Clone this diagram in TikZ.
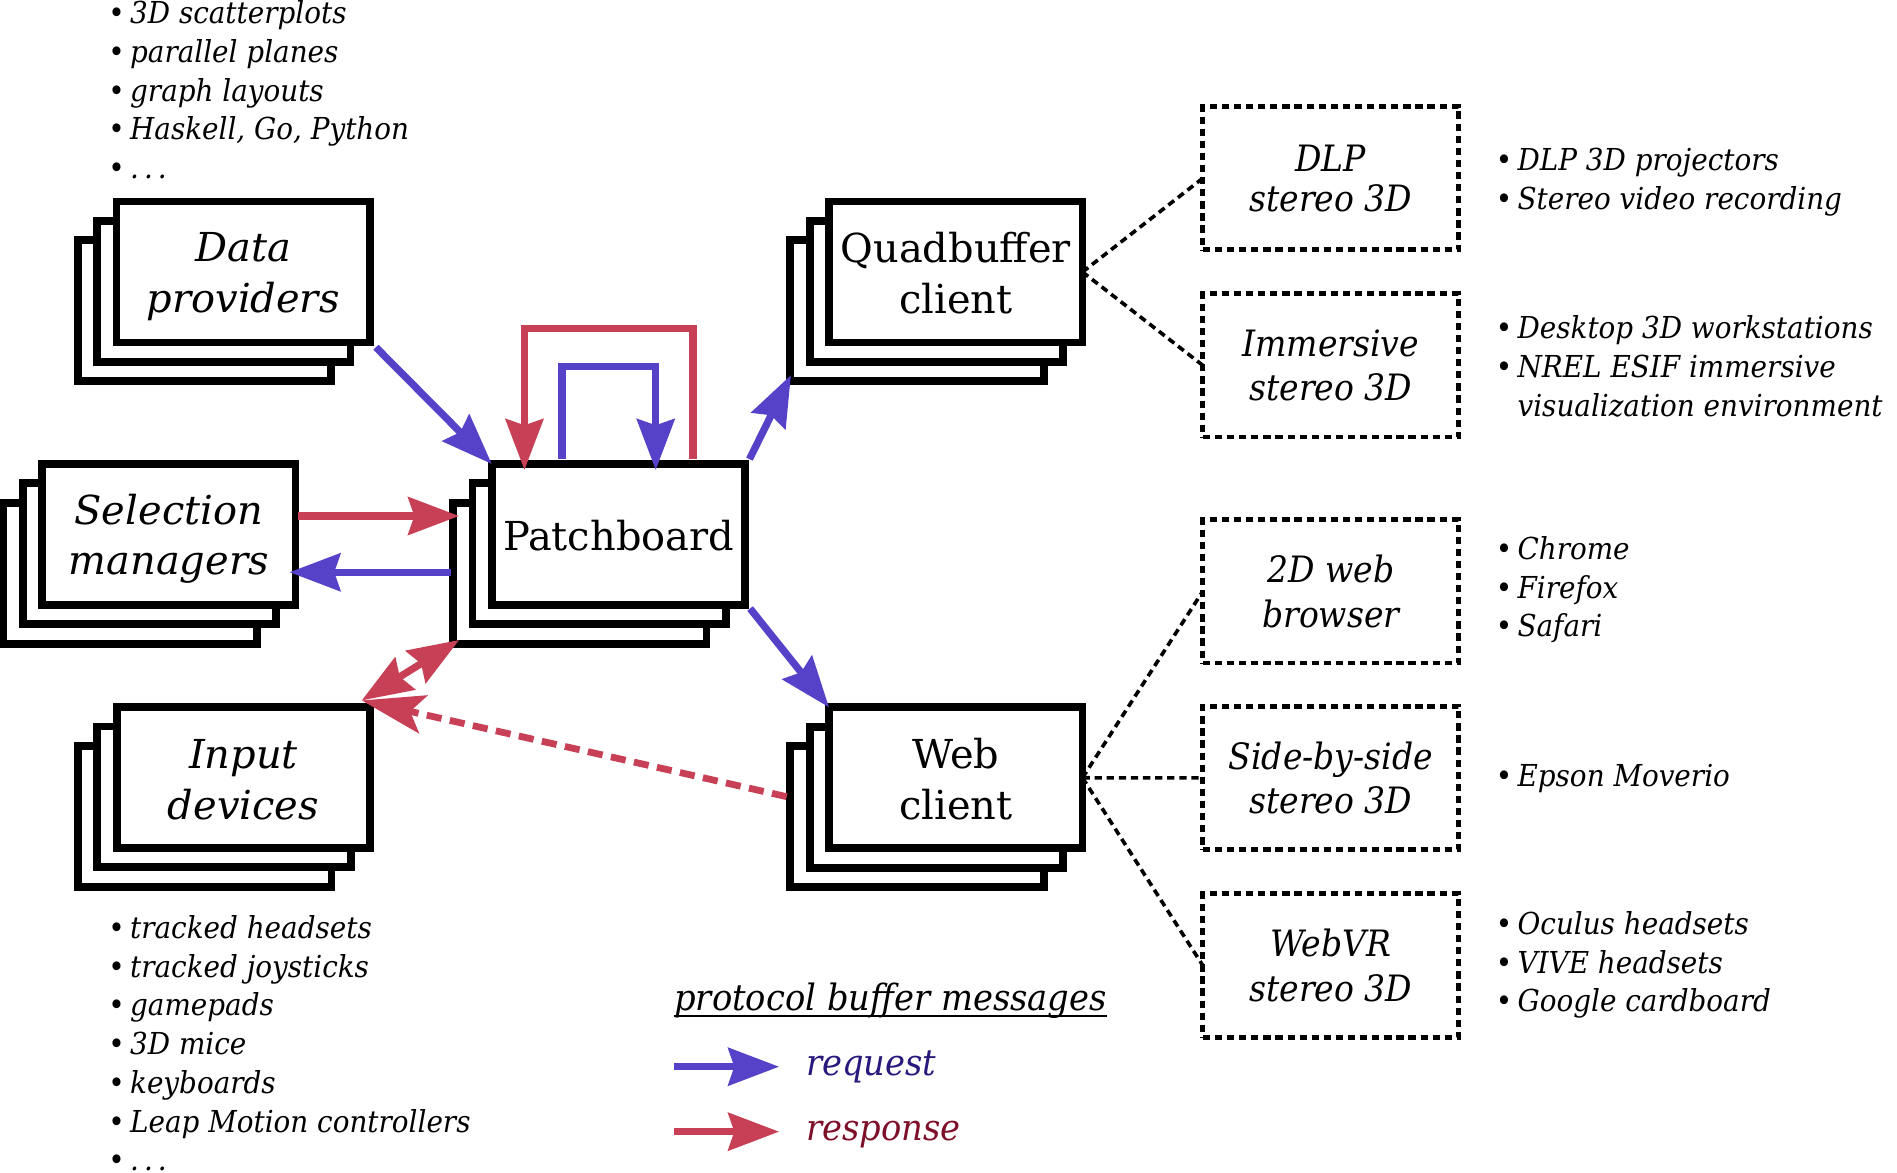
\documentclass[tikz,border=0pt]{standalone}
\usepackage{fontspec}
\setmainfont{DejaVu Serif}
\newfontfamily\listfont{DejaVu Serif}[FakeStretch=0.92]
\newfontfamily\scrfont{DejaVu Serif}[FakeStretch=0.91]
\newfontfamily\legfont{DejaVu Serif}[FakeStretch=0.93]
\usetikzlibrary{arrows.meta,calc}
\definecolor{reqblue}{RGB}{86,66,200}
\definecolor{resred}{RGB}{200,64,85}
\definecolor{reqtext}{RGB}{40,25,125}
\definecolor{restext}{RGB}{125,15,40}
\newcommand\bul{\makebox[9pt][l]{•}}
\begin{document}
\begin{tikzpicture}[x=0.5pt,y=-0.5pt,
  card/.style={draw=black, fill=white, line width=3.25pt, minimum width=104.75pt,
    minimum height=58.25pt, inner sep=0pt, outer sep=0pt},
  cardtext/.style={inner sep=0pt, align=center, font=\fontsize{16.5}{21}\selectfont},
  screen/.style={draw=black, line width=2pt, dash pattern=on 3pt off 2pt,
    minimum width=105.8pt, minimum height=59.25pt, inner sep=0pt, outer sep=0pt,
    align=center, font=\fontsize{15}{18.5}\selectfont\scrfont\itshape},
  conn/.style={draw=black, line width=1.5pt, dash pattern=on 3pt off 2pt},
  tipA/.tip={Stealth[length=21pt,width=15.5pt,inset=2.5pt]},
  req/.style={draw=reqblue, line width=3pt, -tipA},
  res/.style={draw=resred, line width=3pt, -tipA},
  resboth/.style={draw=resred, line width=3pt, tipA-tipA},
  resdash/.style={draw=resred, line width=2.8pt, dash pattern=on 6.25pt off 3.5pt,
    -{Stealth[length=26pt,width=16pt,inset=5.5pt]}},
  blist/.style={anchor=west, align=left, inner sep=0pt,
    font=\fontsize{12.5}{16}\selectfont\listfont\itshape}
  ]
\useasboundingbox (0,0) rectangle (1568,969);

% stacks
\node[card] (dp3) at (169,256.8) {};
\node[card] (dp2) at (185,240.8) {};
\node[card] (dp) at (201,224.8) {};
\node[cardtext] (dpt) at ($(dp.center)+(0,3.5)$) {\itshape Data\\\itshape providers};

\node[card] (sm3) at (107.5,473.75) {};
\node[card] (sm2) at (123.5,457.75) {};
\node[card] (sm) at (139.5,441.75) {};
\node[cardtext] (smt) at ($(sm.center)+(0,3.5)$) {\itshape Selection\\\itshape managers};

\node[card] (id3) at (169.25,674.7) {};
\node[card] (id2) at (185.25,658.7) {};
\node[card] (id) at (201.25,642.7) {};
\node[cardtext] (idt) at ($(id.center)+(0,2)$) {\itshape Input\\\itshape devices};

\node[card] (pb3) at (479.25,473.75) {};
\node[card] (pb2) at (495.25,457.75) {};
\node[card] (pb) at (511.25,441.75) {};
\node[cardtext] (pbt) at ($(pb.center)+(0,1)$) {Patchboard};

\node[card] (qb3) at (758,256.8) {};
\node[card] (qb2) at (774,240.8) {};
\node[card] (qb) at (790,224.8) {};
\node[cardtext] (qbt) at ($(qb.center)+(0,1)$) {Quadbuffer\\client};

\node[card] (wc3) at (758,674.9) {};
\node[card] (wc2) at (774,658.9) {};
\node[card] (wc) at (790,642.9) {};
\node[cardtext] (wct) at ($(wc.center)+(0,1)$) {Web\\client};

% screens
\node[screen] (dlp) at (1100,147.3) {\raisebox{-2pt}{DLP}\\stereo 3D};
\node[screen] (imm) at (1100,302) {Immersive\\stereo 3D};
\node[screen] (brw) at (1100,488.7) {2D web\\browser};
\node[screen] (sbs) at (1100,643) {Side-by-side\\stereo 3D};
\node[screen] (wvr) at (1100,798) {WebVR\\stereo 3D};

\draw[conn] (qb.east) -- (dlp.west);
\draw[conn] (qb.east) -- (imm.west);
\draw[conn] (wc.east) -- (brw.west);
\draw[conn] (wc.east) -- (sbs.west);
\draw[conn] (wc.east) -- (wvr.west);

% arrows
\draw[req] ($(dp.south east)+(5,4)$) -- (pb.north west);
\draw[req] ($(pb.north east)+(3.5,-4)$) -- ($(qb3.south west)+(0.5,-5)$);
\draw[req] ($(pb.south east)+(4,3)$) -- (wc.north west);
\draw[res] ($(pb.north)+(61.5,-4)$) -- ++(0,-107.8) -| ($(pb.north)+(-77.75,5)$);
\draw[req] ($(pb.north)+(-46.75,-4)$) -- ++(0,-76.7) -| ($(pb.north)+(30.75,5)$);
\coordinate (smr) at ($(sm.east)+(2,-15.25)$);
\draw[res] (smr) -- ($(smr -| pb3.west)+(5,0)$);
\draw[req] ($(pb3.west)+(-2,-0.75)$) -- ($(sm.east)+(-5,31.25)$);
\coordinate (idtip) at ($(id.north east)+(-7,-5.5)$);
\draw[resboth] (idtip) -- ($(pb3.south west)+(5,-3)$);
\draw[resdash] ($(wc3.west)+(-3,-16.4)$) -- (idtip);

% bullet lists
\node[blist] (l1) at (89.2,77.2) {\bul 3D scatterplots\strut\\\bul parallel planes\strut\\\bul graph layouts\strut\\\bul Haskell, Go, Python\strut\\\bul .\,.\,.\strut};
\node[blist] (l2) at (1236,150.7) {\bul DLP 3D projectors\strut\\\bul Stereo video recording\strut};
\node[blist] (l3) at (1236,305.5) {\bul Desktop 3D workstations\strut\\\bul NREL ESIF immersive\strut\\\hspace*{9pt}visualization environment\strut};
\node[blist] (l4) at (1236,488) {\bul Chrome\strut\\\bul Firefox\strut\\\bul Safari\strut};
\node[blist] (l5) at (1236,643.5) {\bul Epson Moverio\strut};
\node[blist] (l6) at (1236,798) {\bul Oculus headsets\strut\\\bul VIVE headsets\strut\\\bul Google cardboard\strut};
\node[blist] (l7) at (89.2,860.7) {\bul tracked headsets\strut\\\bul tracked joysticks\strut\\\bul gamepads\strut\\\bul 3D mice\strut\\\bul keyboards\strut\\\bul Leap Motion controllers\strut\\\bul .\,.\,.};

% legend
\node[anchor=base west, inner sep=0pt, font=\fontsize{15}{18}\selectfont\legfont\itshape] (leg) at (557,835.5) {protocol buffer messages};
\draw[line width=0.9pt] ($(leg.base west)+(0,4.5)$) -- ($(leg.base east)+(0,4.5)$);
\coordinate (lb1) at (557,881.7);
\coordinate (lb2) at (644,881.7);
\coordinate (lr1) at (557,935.4);
\coordinate (lr2) at (644,935.4);
\draw[req] (lb1) -- (lb2);
\draw[res] (lr1) -- (lr2);
\node[anchor=base west, inner sep=0pt, text=reqtext, font=\fontsize{15}{18}\selectfont\legfont\itshape] (rq) at (666,889) {request};
\node[anchor=base west, inner sep=0pt, text=restext, font=\fontsize{15}{18}\selectfont\legfont\itshape] (rs) at (666,942.7) {response};
\end{tikzpicture}
\end{document}
